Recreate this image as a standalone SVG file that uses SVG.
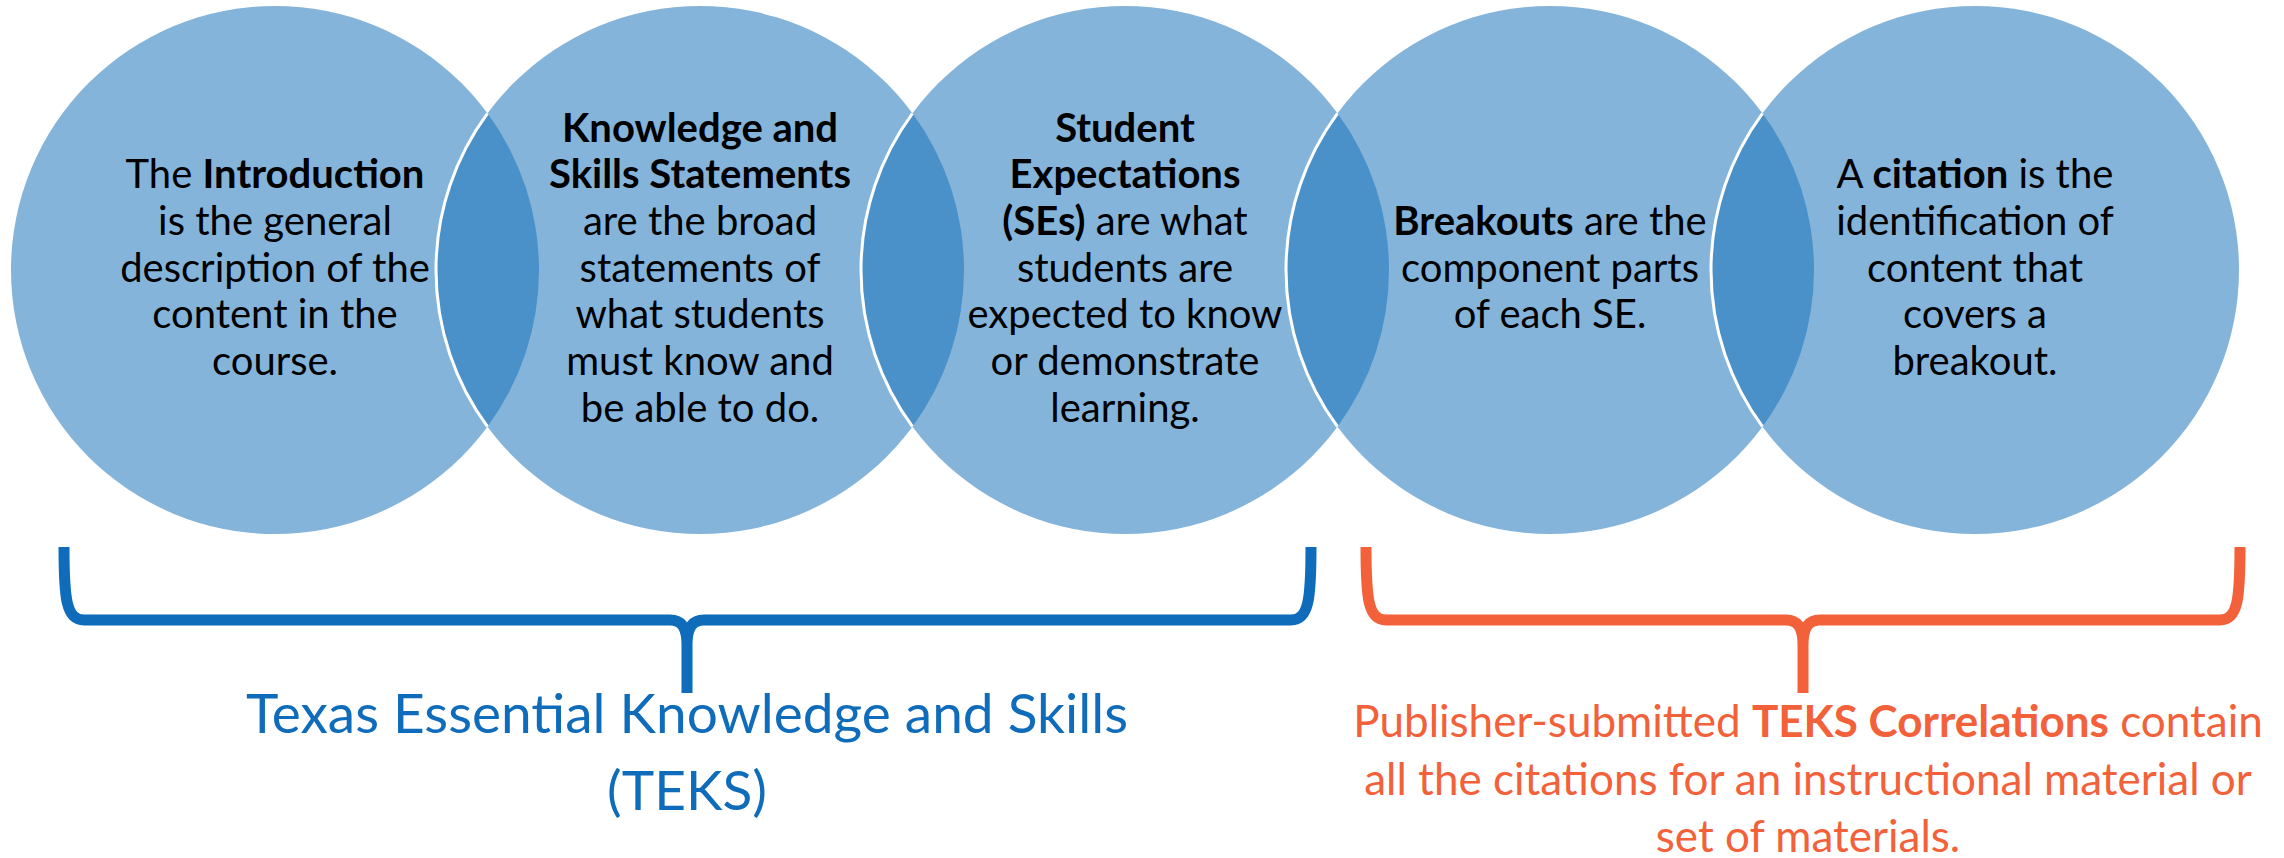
<svg xmlns="http://www.w3.org/2000/svg" width="2284" height="858" viewBox="0 0 2284 858">
<style>
.c{fill:#85B4DA}
.l{fill:#4A90C9}
.w{fill:none;stroke:#FFFFFF;stroke-width:3}
.t{font-family:Lato,"Liberation Sans",sans-serif;font-size:40px;fill:#000;text-anchor:middle}
.b{font-weight:bold}
.br{fill:none;stroke-width:11;stroke-linejoin:round}
.blue{stroke:#0F6CBA}
.orange{stroke:#F26139}
.tb{font-family:Lato,"Liberation Sans",sans-serif;font-size:55px;fill:#0F6CBA;text-anchor:middle}
.to{font-family:Lato,"Liberation Sans",sans-serif;font-size:44px;fill:#F26139;text-anchor:middle}
</style>
<rect width="2284" height="858" fill="#FFFFFF"/>
<g id="circles">
<circle class="c" cx="275" cy="270" r="264"/>
<circle class="c" cx="700" cy="270" r="264"/>
<circle class="c" cx="1125" cy="270" r="264"/>
<circle class="c" cx="1550" cy="270" r="264"/>
<circle class="c" cx="1975" cy="270" r="264"/>
</g>
<g id="lenses">
<path class="l" d="M487.5 113.35A264 264 0 0 1 487.5 426.65A264 264 0 0 1 487.5 113.35Z"/>
<path class="w" d="M487.5 426.65A264 264 0 0 1 487.5 113.35"/>
<path class="l" d="M912.5 113.35A264 264 0 0 1 912.5 426.65A264 264 0 0 1 912.5 113.35Z"/>
<path class="w" d="M912.5 426.65A264 264 0 0 1 912.5 113.35"/>
<path class="l" d="M1337.5 113.35A264 264 0 0 1 1337.5 426.65A264 264 0 0 1 1337.5 113.35Z"/>
<path class="w" d="M1337.5 426.65A264 264 0 0 1 1337.5 113.35"/>
<path class="l" d="M1762.5 113.35A264 264 0 0 1 1762.5 426.65A264 264 0 0 1 1762.5 113.35Z"/>
<path class="w" d="M1762.5 426.65A264 264 0 0 1 1762.5 113.35"/>
</g>
<g id="node-introduction">
<text class="t" x="275" y="188">The <tspan class="b">Introduction</tspan></text>
<text class="t" x="275" y="235">is the general</text>
<text class="t" x="275" y="282">description of the</text>
<text class="t" x="275" y="328">content in the</text>
<text class="t" x="275" y="375">course.</text>
</g>
<g id="node-knowledge-skills">
<text class="t b" x="700" y="142">Knowledge and</text>
<text class="t b" x="700" y="188">Skills Statements</text>
<text class="t" x="700" y="235">are the broad</text>
<text class="t" x="700" y="282">statements of</text>
<text class="t" x="700" y="328">what students</text>
<text class="t" x="700" y="375">must know and</text>
<text class="t" x="700" y="422">be able to do.</text>
</g>
<g id="node-student-expectations">
<text class="t b" x="1125" y="142">Student</text>
<text class="t b" x="1125" y="188">Expectations</text>
<text class="t" x="1125" y="235"><tspan class="b">(SEs)</tspan> are what</text>
<text class="t" x="1125" y="282">students are</text>
<text class="t" x="1125" y="328">expected to know</text>
<text class="t" x="1125" y="375">or demonstrate</text>
<text class="t" x="1125" y="422">learning.</text>
</g>
<g id="node-breakouts">
<text class="t" x="1550" y="235"><tspan class="b">Breakouts</tspan> are the</text>
<text class="t" x="1550" y="282">component parts</text>
<text class="t" x="1550" y="328">of each SE.</text>
</g>
<g id="node-citation">
<text class="t" x="1975" y="188">A <tspan class="b">citation</tspan> is the</text>
<text class="t" x="1975" y="235">identification of</text>
<text class="t" x="1975" y="282">content that</text>
<text class="t" x="1975" y="328">covers a</text>
<text class="t" x="1975" y="375">breakout.</text>
</g>
<g id="connectors">
<path class="br blue" d="M64 547C64 598 66 620 84 620L670 620C682 620 687 628 687 645L687 693M1311 547C1311 598 1309 620 1291 620L704 620C692 620 687 628 687 645"/>
<path class="br orange" d="M1366 547C1366 598 1368 620 1386 620L1786 620C1798 620 1803 628 1803 645L1803 693M2240 547C2240 598 2238 620 2220 620L1820 620C1808 620 1803 628 1803 645"/>
</g>
<g id="node-teks">
<text class="tb" x="687" y="733">Texas Essential Knowledge and Skills</text>
<text class="tb" x="687" y="810">(TEKS)</text>
</g>
<g id="node-correlations">
<text class="to" x="1808" y="737">Publisher-submitted <tspan class="b">TEKS Correlations</tspan> contain</text>
<text class="to" x="1808" y="795">all the citations for an instructional material or</text>
<text class="to" x="1808" y="852">set of materials.</text>
</g>
</svg>
